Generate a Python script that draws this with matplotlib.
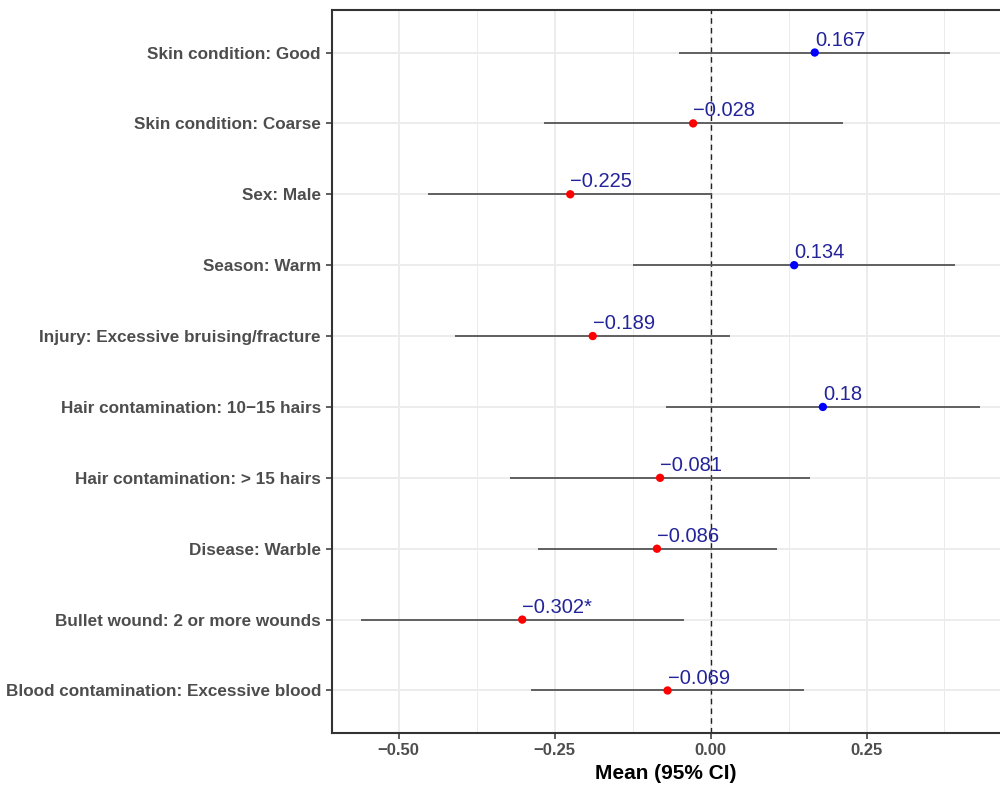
import numpy as np
import matplotlib
matplotlib.use('Agg')
import matplotlib.pyplot as plt
from matplotlib.ticker import MultipleLocator

plt.rcParams['font.family'] = ['Liberation Sans', 'DejaVu Sans']

labels = ['Skin condition: Good', 'Skin condition: Coarse', 'Sex: Male', 'Season: Warm',
          'Injury: Excessive bruising/fracture', 'Hair contamination: 10\u221215 hairs',
          'Hair contamination: > 15 hairs', 'Disease: Warble',
          'Bullet wound: 2 or more wounds', 'Blood contamination: Excessive blood']
mean = [0.167, -0.028, -0.225, 0.134, -0.189, 0.18, -0.081, -0.086, -0.302, -0.069]
lower = [-0.050, -0.267, -0.453, -0.125, -0.409, -0.072, -0.322, -0.277, -0.560, -0.288]
upper = [0.384, 0.212, 0.003, 0.392, 0.031, 0.432, 0.159, 0.106, -0.042, 0.149]
txt = ['0.167', '\u22120.028', '\u22120.225', '0.134', '\u22120.189', '0.18',
       '\u22120.081', '\u22120.086', '\u22120.302*', '\u22120.069']

n = len(labels)
y = np.arange(n, 0, -1)  # first label on top

fig = plt.figure(figsize=(10, 7.87), dpi=100)
ax = fig.add_axes([0.332, 0.0686, 0.668, 0.9187])

# grid like theme_bw
ax.xaxis.set_major_locator(MultipleLocator(0.25))
ax.xaxis.set_minor_locator(MultipleLocator(0.125))
ax.grid(which='major', color='#ebebeb', lw=1.3, zorder=0)
ax.grid(which='minor', axis='x', color='#ebebeb', lw=0.7, zorder=0)
ax.set_axisbelow(True)

ax.axvline(0, color='#222222', ls=(0, (4, 3)), lw=1.0, zorder=1)
ax.hlines(y, lower, upper, color='#555555', lw=1.3, zorder=2)
cols = ['blue' if m > 0 else 'red' for m in mean]
ax.scatter(mean, y, s=36, c=cols, zorder=3, linewidths=0)
for xi, yi, t in zip(mean, y, txt):
    ax.annotate(t, (xi, yi), xytext=(0, 5), textcoords='offset points',
                ha='left', va='baseline', fontsize=14.5, color='#24249a', zorder=4)

ax.set_xlim(-0.607, 0.464)
ax.set_ylim(0.4, n + 0.6)
ax.set_yticks(y)
ax.set_yticklabels(labels)
ax.set_xticks([-0.5, -0.25, 0, 0.25])
ax.set_xticklabels(['\u22120.50', '\u22120.25', '0.00', '0.25'])
for lab in ax.get_xticklabels() + ax.get_yticklabels():
    lab.set_fontweight('bold')
    lab.set_color('#4d4d4d')
    lab.set_fontsize(12)
for lab in ax.get_yticklabels():
    lab.set_fontsize(12.3)
ax.tick_params(which='major', length=4, width=1.1, color='#333333')
ax.tick_params(axis='y', pad=4)
ax.tick_params(which='minor', length=0)
ax.set_xlabel('Mean (95% CI)', fontsize=15, fontweight='bold', labelpad=4)

for s in ['left', 'top', 'bottom']:
    ax.spines[s].set_color('#333333')
    ax.spines[s].set_linewidth(1.5)
ax.spines['right'].set_visible(False)

fig.savefig('out.png', dpi=100)
